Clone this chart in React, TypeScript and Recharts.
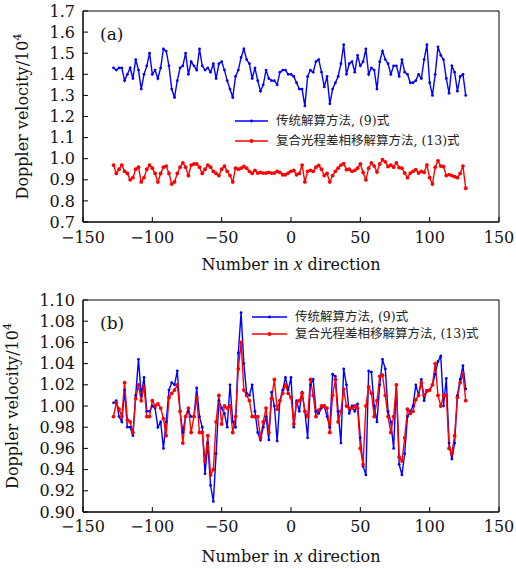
import React from 'react';
import { LineChart, Line, XAxis, YAxis, ReferenceArea, Legend } from 'recharts';

// sample positions along x (every second pixel column)
const xIndex = [
  -128, -126, -124, -122, -120, -118, -116, -114, -112, -110, -108, -106, -104, -102, -100, -98,
  -96, -94, -92, -90, -88, -86, -84, -82, -80, -78, -76, -74, -72, -70, -68, -66,
  -64, -62, -60, -58, -56, -54, -52, -50, -48, -46, -44, -42, -40, -38, -36, -34,
  -32, -30, -28, -26, -24, -22, -20, -18, -16, -14, -12, -10, -8, -6, -4, -2,
  0, 2, 4, 6, 8, 10, 12, 14, 16, 18, 20, 22, 24, 26, 28, 30,
  32, 34, 36, 38, 40, 42, 44, 46, 48, 50, 52, 54, 56, 58, 60, 62,
  64, 66, 68, 70, 72, 74, 76, 78, 80, 82, 84, 86, 88, 90, 92, 94,
  96, 98, 100, 102, 104, 106, 108, 110, 112, 114, 116, 118, 120, 122, 124, 126,
];

// (a) traditional method, eq. (9)
const topTraditional = [
  1.43, 1.42, 1.43, 1.43, 1.37, 1.40, 1.43, 1.38, 1.47, 1.42, 1.33, 1.40, 1.44, 1.50, 1.40, 1.42,
  1.38, 1.43, 1.52, 1.51, 1.44, 1.33, 1.29, 1.37, 1.43, 1.44, 1.50, 1.40, 1.46, 1.44, 1.42, 1.52,
  1.44, 1.42, 1.43, 1.41, 1.45, 1.38, 1.45, 1.46, 1.42, 1.37, 1.33, 1.29, 1.39, 1.42, 1.48, 1.52,
  1.47, 1.45, 1.38, 1.43, 1.37, 1.32, 1.35, 1.42, 1.38, 1.37, 1.37, 1.35, 1.41, 1.42, 1.42, 1.40,
  1.40, 1.39, 1.36, 1.33, 1.33, 1.25, 1.39, 1.42, 1.41, 1.46, 1.47, 1.41, 1.34, 1.39, 1.26, 1.33,
  1.36, 1.39, 1.45, 1.54, 1.40, 1.45, 1.46, 1.41, 1.49, 1.44, 1.46, 1.52, 1.40, 1.43, 1.42, 1.33,
  1.46, 1.51, 1.47, 1.45, 1.40, 1.44, 1.44, 1.39, 1.47, 1.41, 1.40, 1.36, 1.36, 1.37, 1.40, 1.38,
  1.47, 1.54, 1.36, 1.30, 1.40, 1.53, 1.49, 1.47, 1.38, 1.31, 1.44, 1.41, 1.32, 1.39, 1.40, 1.30,
];

// (a) composite optical path phase-shift method, eq. (13)
const topComposite = [
  0.97, 0.93, 0.95, 0.97, 0.94, 0.93, 0.90, 0.91, 0.95, 0.96, 0.89, 0.91, 0.95, 0.97, 0.955, 0.93,
  0.89, 0.93, 0.96, 0.965, 0.93, 0.88, 0.89, 0.93, 0.96, 0.98, 0.96, 0.92, 0.97, 0.975, 0.975, 0.96,
  0.93, 0.95, 0.97, 0.96, 0.94, 0.93, 0.92, 0.95, 0.965, 0.94, 0.92, 0.89, 0.955, 0.95, 0.955, 0.963,
  0.955, 0.94, 0.93, 0.945, 0.932, 0.935, 0.932, 0.932, 0.935, 0.932, 0.932, 0.94, 0.935, 0.924, 0.924, 0.932,
  0.94, 0.945, 0.924, 0.93, 0.97, 0.89, 0.94, 0.945, 0.94, 0.96, 0.968, 0.95, 0.92, 0.93, 0.89, 0.92,
  0.94, 0.955, 0.97, 0.976, 0.948, 0.95, 0.94, 0.945, 0.955, 0.975, 0.935, 0.90, 0.955, 0.98, 0.965, 0.937,
  0.975, 0.995, 0.985, 0.963, 0.97, 0.96, 0.98, 0.958, 0.955, 0.932, 0.91, 0.932, 0.94, 0.948, 0.932, 0.94,
  0.935, 0.97, 0.91, 0.88, 0.96, 0.99, 0.965, 0.963, 0.92, 0.925, 0.92, 0.915, 0.91, 0.93, 0.965, 0.86,
];

// (b) traditional method
const bottomTraditional = [
  1.003, 1.005, 0.99, 0.985, 1.015, 0.98, 0.98, 0.972, 1.01, 1.044, 1.01, 1.027, 0.995, 0.995, 1.0, 0.998,
  0.98, 0.985, 0.96, 0.985, 1.015, 1.022, 1.02, 1.033, 0.995, 0.975, 0.99, 0.995, 0.99, 0.99, 1.017, 0.99,
  0.98, 0.936, 0.965, 0.925, 0.91, 0.955, 1.005, 0.998, 0.993, 0.98, 1.02, 0.985, 0.98, 1.05, 1.088, 1.04,
  1.012, 1.01, 1.02, 0.995, 0.975, 0.968, 0.98, 0.99, 0.968, 1.013, 1.0, 0.967, 1.005, 1.015, 1.027, 1.015,
  1.027, 0.98, 1.005, 0.995, 1.013, 0.995, 0.97, 1.02, 1.025, 0.995, 0.993, 0.998, 1.0, 0.99, 0.98, 1.03,
  1.028, 0.995, 0.965, 1.035, 1.02, 0.993, 1.0, 0.995, 1.002, 0.97, 0.943, 0.935, 1.033, 1.032, 1.0, 0.985,
  1.02, 1.044, 1.035, 0.995, 0.985, 0.96, 1.02, 0.945, 0.935, 0.955, 0.99, 0.995, 1.0, 1.02, 1.01, 1.025,
  1.005, 1.015, 1.015, 1.02, 1.03, 1.042, 1.047, 1.0, 1.026, 0.965, 0.95, 0.965, 1.01, 1.025, 1.038, 1.016,
];

// (b) composite method
const bottomComposite = [
  0.99, 1.003, 0.997, 0.99, 1.022, 0.987, 0.985, 0.975, 1.007, 1.02, 1.005, 1.018, 0.99, 0.99, 1.005, 1.0,
  1.002, 0.998, 0.988, 0.972, 1.008, 1.012, 1.015, 1.02, 0.995, 0.965, 0.99, 0.998, 0.975, 0.99, 1.008, 0.975,
  0.975, 0.948, 0.972, 0.935, 0.94, 0.985, 1.01, 0.983, 1.0, 0.998, 1.0, 0.975, 0.99, 1.035, 1.06, 1.015,
  1.01, 1.005, 0.99, 0.99, 0.99, 0.97, 0.985, 0.998, 0.975, 1.007, 1.025, 0.997, 1.005, 1.012, 1.02, 1.012,
  1.008, 0.983, 1.003, 1.005, 1.012, 0.995, 0.99, 1.025, 1.01, 0.99, 0.996, 1.0, 1.0, 0.998, 0.975, 1.01,
  1.025, 0.985, 0.995, 1.016, 1.0, 0.998, 0.998, 1.0, 0.998, 0.96, 0.945, 1.0, 1.018, 1.012, 0.99, 1.005,
  1.028, 1.029, 1.01, 0.99, 0.975, 0.99, 1.02, 0.952, 0.948, 0.97, 0.997, 0.993, 0.995, 1.006, 1.01, 1.022,
  1.01, 1.014, 1.015, 1.02, 1.04, 1.01, 1.0, 1.01, 1.01, 0.96, 0.955, 0.972, 1.008, 1.022, 1.03, 1.005,
];

const xTicks = [-150, -100, -50, 0, 50, 100, 150];
const topYTicks = [0.7, 0.8, 0.9, 1.0, 1.1, 1.2, 1.3, 1.4, 1.5, 1.6, 1.7];
const bottomYTicks = [0.9, 0.92, 0.94, 0.96, 0.98, 1.0, 1.02, 1.04, 1.06, 1.08, 1.1];

const NAME_TRAD = '传统解算方法, (9)式';
const NAME_COMP = '复合光程差相移解算方法, (13)式';

const BLUE = '#0000ff';
const RED = '#ff0000';
const SERIF = "'DejaVu Serif', serif";
const LEGEND_FONT = "'DejaVu Serif', 'Noto Sans CJK SC', serif";

const topData = xIndex.map((x, i) => ({ x, trad: topTraditional[i], comp: topComposite[i] }));
const bottomData = xIndex.map((x, i) => ({ x, trad: bottomTraditional[i], comp: bottomComposite[i] }));

const fmtX = (v: number) => (v < 0 ? `\u2212${Math.abs(v)}` : `${v}`);

function XTitle(props: any) {
  const vb = props.viewBox || {};
  return (
    <text
      x={vb.x + vb.width / 2}
      y={vb.y + vb.height - props.lift}
      textAnchor="middle"
      fontSize={16}
      fontFamily={SERIF}
      fill="#111"
    >
      Number in{' '}
      <tspan fontStyle="italic" fontFamily="'Liberation Serif', serif" fontSize={19}>
        x
      </tspan>{' '}
      direction
    </text>
  );
}

function YTitle(props: any) {
  const vb = props.viewBox || {};
  const cy = vb.y + vb.height / 2;
  const bx = props.baseX;
  return (
    <text
      transform={`rotate(-90 ${bx} ${cy})`}
      x={bx}
      y={cy}
      textAnchor="middle"
      fontSize={16}
      fontFamily={SERIF}
      fill="#111"
    >
      Doppler velocity/10<tspan dy={-7} fontSize={11}>4</tspan>
    </text>
  );
}

function makeLegend(rowH: number, sampleW: number) {
  return () => (
    <div style={{ fontFamily: LEGEND_FONT, fontSize: 12.5, color: '#222' }}>
      {[
        { name: NAME_TRAD, color: BLUE, r: 1.4 },
        { name: NAME_COMP, color: RED, r: 1.9 },
      ].map((s) => (
        <div key={s.name} style={{ display: 'flex', alignItems: 'center', height: rowH }}>
          <svg width={sampleW} height={10}>
            <line x1={0} y1={5} x2={sampleW} y2={5} stroke={s.color} strokeWidth={1.4} />
            <circle cx={sampleW / 2} cy={5} r={s.r} fill={s.color} />
          </svg>
          <span style={{ marginLeft: 8, whiteSpace: 'nowrap', lineHeight: 1 }}>{s.name}</span>
        </div>
      ))}
    </div>
  );
}

const tickStyle = { fill: '#111', fontSize: 16, fontFamily: SERIF };

function Panel(props: {
  data: any[];
  height: number;
  top: number;
  xAxisH: number;
  xTickMargin: number;
  titleLift: number;
  yDomain: [number, number];
  yTicks: number[];
  yDigits: number;
  yTitleX: number;
  tag: string;
  legendPos: { left: number; top: number };
  legendRow: number;
  legendSample: number;
}) {
  const p = props;
  return (
    <LineChart
      width={516}
      height={p.height}
      data={p.data}
      margin={{ top: p.top, right: 17, bottom: 0, left: 0 }}
    >
      <XAxis
        dataKey="x"
        type="number"
        domain={[-150, 150]}
        ticks={xTicks}
        interval={0}
        tickFormatter={fmtX}
        tickSize={-5}
        tickMargin={p.xTickMargin}
        height={p.xAxisH}
        stroke="#000"
        tickLine={{ stroke: '#000' }}
        tick={tickStyle}
        label={<XTitle lift={p.titleLift} />}
      />
      <YAxis
        type="number"
        domain={p.yDomain}
        ticks={p.yTicks}
        interval={0}
        tickFormatter={(v: number) => v.toFixed(p.yDigits)}
        tickSize={-5}
        tickMargin={13}
        width={83}
        stroke="#000"
        tickLine={{ stroke: '#000' }}
        tick={tickStyle}
        label={<YTitle baseX={p.yTitleX} />}
      />
      <ReferenceArea
        x1={-150}
        x2={150}
        y1={p.yDomain[0]}
        y2={p.yDomain[1]}
        fill="none"
        stroke="#000"
        strokeWidth={1}
        ifOverflow="visible"
        label={{
          value: p.tag,
          position: 'insideTopLeft',
          offset: 17,
          fontSize: 17,
          fontFamily: SERIF,
          fill: '#111',
        }}
      />
      <Line
        dataKey="trad"
        name={NAME_TRAD}
        stroke={BLUE}
        strokeWidth={1.4}
        dot={{ r: 1.4, fill: BLUE, stroke: 'none' }}
        activeDot={false}
        isAnimationActive={false}
      />
      <Line
        dataKey="comp"
        name={NAME_COMP}
        stroke={RED}
        strokeWidth={1.4}
        dot={{ r: 1.9, fill: RED, stroke: 'none' }}
        activeDot={false}
        isAnimationActive={false}
      />
      <Legend
        layout="vertical"
        align="center"
        verticalAlign="middle"
        content={makeLegend(p.legendRow, p.legendSample)}
        wrapperStyle={{ left: p.legendPos.left, top: p.legendPos.top, width: 'auto', height: 'auto' }}
      />
    </LineChart>
  );
}

export default function App() {
  return (
    <div style={{ position: 'absolute', left: 0, top: 0, width: 516, height: 569, background: '#fff' }}>
      <div style={{ position: 'absolute', left: 0, top: 0 }}>
        <Panel
          data={topData}
          height={280}
          top={11}
          xAxisH={58}
          xTickMargin={15}
          titleLift={10}
          yDomain={[0.7, 1.7]}
          yTicks={topYTicks}
          yDigits={1}
          yTitleX={28}
          tag="(a)"
          legendPos={{ left: 235, top: 111 }}
          legendRow={20}
          legendSample={33}
        />
      </div>
      <div style={{ position: 'absolute', left: 0, top: 280 }}>
        <Panel
          data={bottomData}
          height={289}
          top={20}
          xAxisH={57}
          xTickMargin={14}
          titleLift={7}
          yDomain={[0.9, 1.1]}
          yTicks={bottomYTicks}
          yDigits={2}
          yTitleX={18}
          tag="(b)"
          legendPos={{ left: 252, top: 28 }}
          legendRow={17.5}
          legendSample={35}
        />
      </div>
    </div>
  );
}
